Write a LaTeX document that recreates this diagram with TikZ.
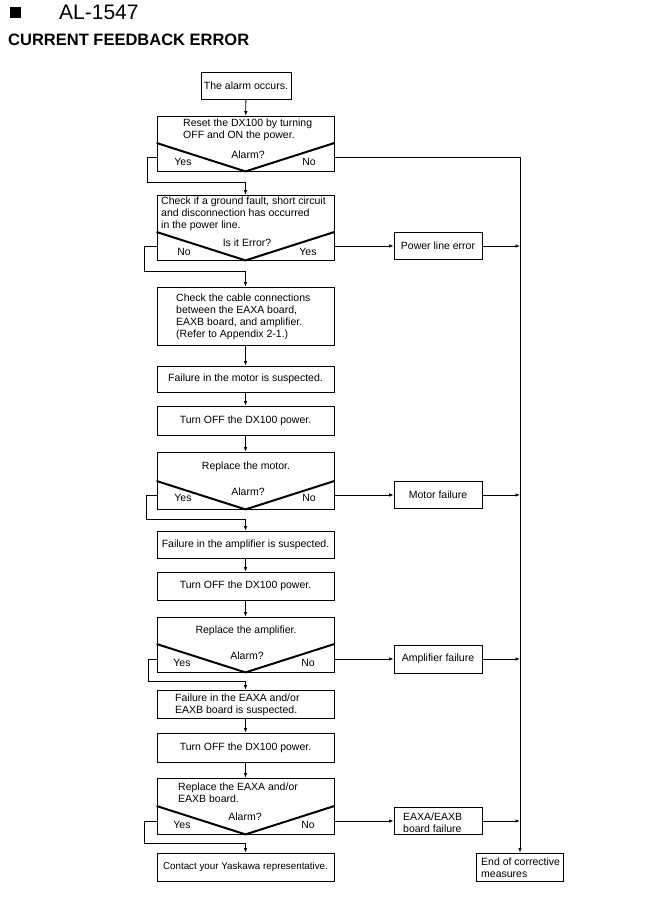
\documentclass[tikz,border=0pt]{standalone}
\usepackage{fontspec}
\setmainfont{Liberation Sans}
\usetikzlibrary{arrows.meta}
\begin{document}
\begin{tikzpicture}[x=1pt,y=-1pt,
  box/.style={draw, line width=0.8pt, inner sep=0pt, font=\fontsize{10.5}{12}\selectfont},
  txt/.style={inner sep=0pt, font=\fontsize{10.5}{12}\selectfont},
  vee/.style={line width=2pt, line join=miter},
  line/.style={line width=0.8pt},
  arr/.style={line width=0.8pt, -{Latex[length=4.5pt,width=3.5pt]}}]
\useasboundingbox (0,0) rectangle (660,914);
% title
\fill (10,7) rectangle (21,18);
\node[anchor=base west, inner sep=0pt, font=\fontsize{21}{24}\selectfont] (al) at (59,19) {AL-1547};
\node[anchor=base west, inner sep=0pt, font=\fontsize{16.5}{20}\selectfont\bfseries] (ttl) at (8,45) {CURRENT FEEDBACK ERROR};
% main column boxes
\node[box, minimum width=90, minimum height=27] (b1) at (246,85.5) {The alarm occurs.};
\node[box, minimum width=177, minimum height=55] (b2) at (245.5,143.5) {};
\node[box, minimum width=177, minimum height=65] (b3) at (245.5,227.5) {};
\node[box, minimum width=177, minimum height=58] (b4) at (245.5,316) {};
\node[box, minimum width=177, minimum height=26] (b5) at (245.5,379) {Failure in the motor is suspected.};
\node[box, minimum width=177, minimum height=29] (b6) at (245.5,420.5) {Turn OFF the DX100 power.};
\node[box, minimum width=177, minimum height=57] (b7) at (245.5,480.5) {};
\node[box, minimum width=177, minimum height=27] (b8) at (245.5,544.5) {Failure in the amplifier is suspected.};
\node[box, minimum width=177, minimum height=28] (b9) at (245.5,586) {Turn OFF the DX100 power.};
\node[box, minimum width=177, minimum height=55] (b10) at (245.5,644.5) {};
\node[box, minimum width=177, minimum height=28] (b11) at (245.5,704) {};
\node[box, minimum width=177, minimum height=29] (b12) at (245.5,747.5) {Turn OFF the DX100 power.};
\node[box, minimum width=177, minimum height=56] (b13) at (245.5,806) {};
\node[box, minimum width=177, minimum height=28, font=\fontsize{9.8}{12}\selectfont] (b14) at (245.5,867) {Contact your Yaskawa representative.};
% side boxes
\node[box, minimum width=88, minimum height=27] (pl) at (438,246) {Power line error};
\node[box, minimum width=88, minimum height=27] (mf) at (438,495) {Motor failure};
\node[box, minimum width=88, minimum height=28] (af) at (438,659) {Amplifier failure};
\node[box, minimum width=88, minimum height=27] (ef) at (438,821) {};
\node[box, minimum width=87, minimum height=28] (end) at (520,867) {};
% box texts
\node[txt, anchor=west, align=left] (t2) at (183,130) {Reset the DX100 by turning\\OFF and ON the power.};
\node[txt, anchor=west, align=left] (t3) at (161,214) {Check if a ground fault, short circuit\\and disconnection has occurred\\in the power line.};
\node[txt, anchor=west, align=left] (t4) at (176,317) {Check the cable connections\\between the EAXA board,\\EAXB board, and amplifier.\\(Refer to Appendix 2-1.)};
\node[txt] (t7) at (246,467) {Replace the motor.};
\node[txt] (t10) at (246,631) {Replace the amplifier.};
\node[txt, anchor=west, align=left] (t11) at (175,705) {Failure in the EAXA and/or\\EAXB board is suspected.};
\node[txt, anchor=west, align=left] (t13) at (178,793) {Replace the EAXA and/or\\EAXB board.};
\node[txt, anchor=west, align=left] (tef) at (403,823) {EAXA/EAXB\\board failure};
\node[txt, anchor=west, align=left] (tend) at (481,868) {End of corrective\\measures};
% decision parts
\draw[vee] (b2.west |- 0,143) -- (b2.south) -- (b2.east |- 0,143);
\draw[vee] (b3.west |- 0,232) -- (b3.south) -- (b3.east |- 0,232);
\draw[vee] (b7.west |- 0,481) -- (b7.south) -- (b7.east |- 0,481);
\draw[vee] (b10.west |- 0,644) -- (b10.south) -- (b10.east |- 0,644);
\draw[vee] (b13.west |- 0,806) -- (b13.south) -- (b13.east |- 0,806);
\node[txt] (q2) at (248,155) {Alarm?};
\node[txt] (y2) at (183,162) {Yes};
\node[txt] (n2) at (309,162) {No};
\node[txt] (q3) at (247,243) {Is it Error?};
\node[txt] (n3) at (184,252) {No};
\node[txt] (y3) at (308,252) {Yes};
\node[txt] (q7) at (248,492) {Alarm?};
\node[txt] (y7) at (183,498) {Yes};
\node[txt] (n7) at (309,498) {No};
\node[txt] (q10) at (247,656) {Alarm?};
\node[txt] (y10) at (182,663) {Yes};
\node[txt] (n10) at (308,663) {No};
\node[txt] (q13) at (245,817) {Alarm?};
\node[txt] (y13) at (182,825) {Yes};
\node[txt] (n13) at (308,825) {No};
% exit coordinates
\coordinate (b2L) at (157,157);
\coordinate (b2R) at (334,157);
\coordinate (b3L) at (157,246);
\coordinate (b3R) at (334,246);
\coordinate (b7L) at (157,495);
\coordinate (b7R) at (334,495);
\coordinate (b10L) at (157,659);
\coordinate (b10R) at (334,659);
\coordinate (b13L) at (157,821);
\coordinate (b13R) at (334,821);
% connectors main column
\draw[arr] (b1) -- (b2);
\draw[arr] (b2L) -| ++(-10,25) -| (b3.north);
\draw[arr] (b3L) -| ++(-13,25) -| (b4.north);
\draw[arr] (b4) -- (b5);
\draw[arr] (b5) -- (b6);
\draw[arr] (b6) -- (b7);
\draw[arr] (b7L) -| ++(-11,24) -| (b8.north);
\draw[arr] (b8) -- (b9);
\draw[arr] (b9) -- (b10);
\draw[arr] (b10L) -| ++(-9,22) -| (b11.north);
\draw[arr] (b11) -- (b12);
\draw[arr] (b12) -- (b13);
\draw[arr] (b13L) -| ++(-13,22) -| (b14.north);
% right side
\draw[arr] (b2R) -| (end.north);
\draw[arr] (b3R) -- (pl.west);
\draw[arr] (b7R) -- (mf.west);
\draw[arr] (b10R) -- (af.west);
\draw[arr] (b13R) -- (ef.west);
\draw[arr] (pl.east) -- (pl.east -| end.north);
\draw[arr] (mf.east) -- (mf.east -| end.north);
\draw[arr] (af.east) -- (af.east -| end.north);
\draw[arr] (ef.east) -- (ef.east -| end.north);
\end{tikzpicture}
\end{document}
